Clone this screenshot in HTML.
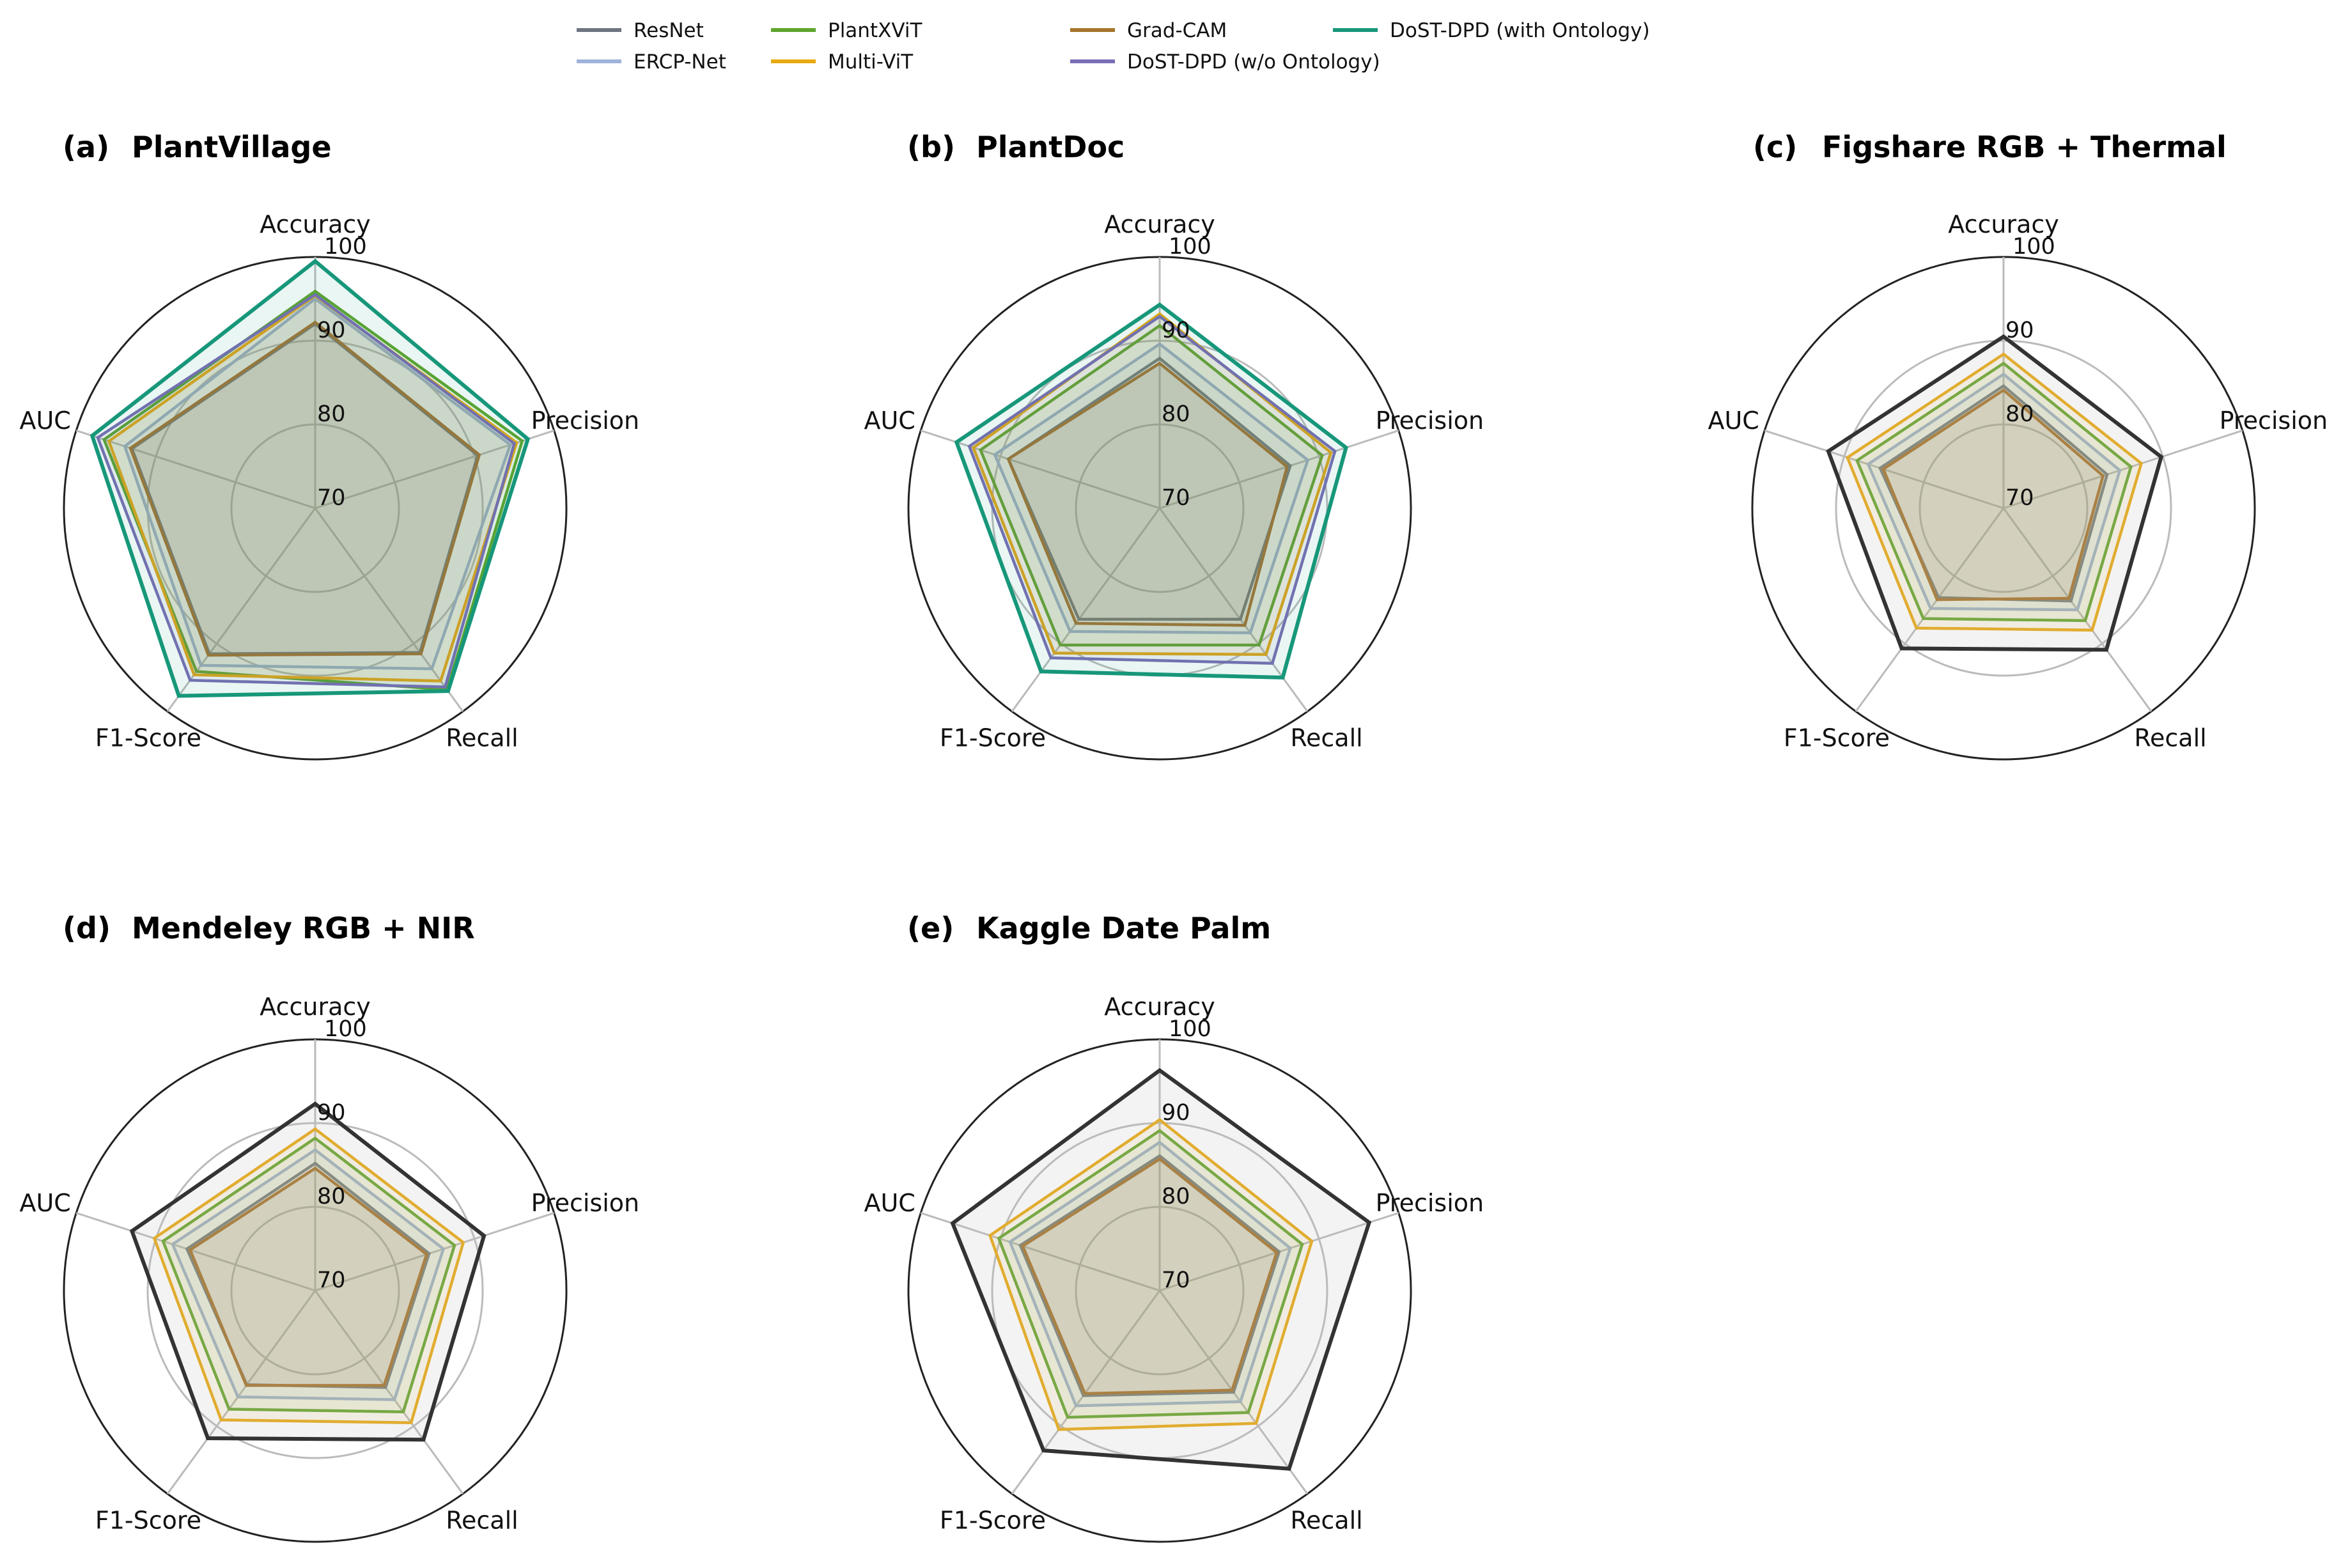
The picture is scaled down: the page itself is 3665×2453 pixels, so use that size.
<!DOCTYPE html>
<html><head><meta charset="utf-8"><style>
html,body{margin:0;padding:0;background:#fff;}
svg{display:block;font-family:"DejaVu Sans","Liberation Sans",sans-serif;}
</style></head><body>
<svg id="chart" width="3665" height="2453" viewBox="0 0 3665 2453" xmlns="http://www.w3.org/2000/svg">
<rect width="3665" height="2453" fill="#fff"/>
<g id="legend"></g>
<g id="panels"></g>
</svg>
<script>
const metrics = ["Accuracy","Precision","Recall","F1-Score","AUC"];
const seriesNames = ["ResNet","ERCP-Net","PlantXViT","Multi-ViT","Grad-CAM","DoST-DPD (w/o Ontology)","DoST-DPD (with Ontology)"];
const panelLetters = ["(a)","(b)","(c)","(d)","(e)"];
const panelTitles = ["PlantVillage","PlantDoc","Figshare RGB + Thermal","Mendeley RGB + NIR","Kaggle Date Palm"];
const tickValues = [70,80,90,100];
const tickLabels = ["70","80","90","100"];
// values per panel: [ResNet, ERCP, PlantXViT, Multi-ViT, Grad-CAM, DoST w/o, DoST with]
const valsA = [[92.0,90.4,91.3,91.5,93.0],[95.0,94.5,93.7,93.2,93.9],[95.9,96.0,96.8,94.1,96.5],[95.4,95.3,95.5,94.6,95.9],[92.2,90.6,91.5,91.7,93.2],[95.5,95.0,96.4,95.4,97.3],[99.5,96.7,97.0,97.7,98.0]];
const valsB = [[87.9,86.4,86.4,86.4,89.0],[89.6,88.6,88.4,88.2,90.7],[91.8,90.4,90.2,90.2,92.5],[93.2,91.5,91.6,91.4,93.4],[87.3,86.0,87.3,87.0,89.0],[92.9,92.0,92.9,92.1,93.9],[94.3,93.4,95.0,94.1,95.5]];
const valsC = [[84.6,83.0,83.7,83.2,85.5],[86.0,84.6,85.0,84.8,87.0],[87.3,86.0,86.6,86.3,88.4],[88.4,87.3,88.0,87.7,89.6],[84.1,82.5,83.3,83.5,85.1],null,[90.5,89.8,90.9,90.7,92.0]];
const valsD = [[85.2,84.3,84.3,83.9,86.1],[86.8,86.1,86.1,85.7,87.9],[88.2,87.5,87.9,87.5,89.1],[89.3,88.6,89.5,89.1,90.2],[84.6,84.0,84.0,84.0,85.7],null,[92.3,91.2,92.0,91.8,93.0]];
const valsE = [[86.1,85.0,85.0,85.5,87.5],[87.7,86.4,86.4,87.0,88.8],[89.1,87.9,88.0,88.7,90.2],[90.4,89.1,89.6,90.5,91.3],[85.7,84.7,84.7,85.2,87.2],null,[96.3,96.3,96.3,93.6,96.0]];
const panelData = [valsA,valsB,valsC,valsD,valsE];

const colors = ["#6e7480","#9fb2da","#5ea42e","#e9a910","#a6752a","#7a6db6","#17977a"];
const NS="http://www.w3.org/2000/svg";
function mk(tag,attrs,parent){const e=document.createElementNS(NS,tag);for(const k in attrs)e.setAttribute(k,attrs[k]);if(parent)parent.appendChild(e);return e;}

const R=393, vmin=70, vmax=100;
const centers=[[493,795],[1814,795],[3134,795],[493,2019],[1814,2019]];
const titlePos=[[98,229],[1419,229],[2742,229],[98,1451],[1419,1451]];
function rad(v){return (v-vmin)/(vmax-vmin)*R;}
function ang(i){return -Math.PI/2 + i*2*Math.PI/metrics.length;}
function pt(cx,cy,i,v){const a=ang(i),r=rad(v);return [cx+r*Math.cos(a),cy+r*Math.sin(a)];}

const leg=document.getElementById('legend');
const legPos=[[902,47],[902,96],[1206,47],[1206,96],[1674,47],[1674,96],[2085,47]];
seriesNames.forEach((n,i)=>{
  const [x,y]=legPos[i];
  const g=mk('g',{},leg);
  
  
  mk('line',{x1:x,y1:y,x2:x+70,y2:y,stroke:colors[i],'stroke-width':6},g);
  const t=mk('text',{x:x+89,y:y+11,'font-size':31,fill:'#111'},g);
  t.textContent=n;
});

const panels=document.getElementById('panels');
panelData.forEach((vals,p)=>{
  const [cx,cy]=centers[p];
  const g=mk('g',{},panels);
  
  
  const dark = p>=2;
  const tg=mk('g',{},g);
  
  
  const t1=mk('text',{x:titlePos[p][0],y:titlePos[p][1]+17,'font-size':46,'font-weight':'bold',fill:'#000'},tg);
  t1.textContent=panelLetters[p];
  const t2=mk('text',{x:titlePos[p][0]+108,y:titlePos[p][1]+17,'font-size':46,'font-weight':'bold',fill:'#000'},tg);
  t2.textContent=panelTitles[p];
  tickValues.forEach((tv)=>{
    if(tv===vmin) return;
    const c=mk('circle',{cx:cx,cy:cy,r:rad(tv),fill:'none',stroke:tv===vmax?'#222':'#bbbbbb','stroke-width':3},g);
    
    
  });
  metrics.forEach((m,i)=>{
    const [x,y]=pt(cx,cy,i,vmax);
    const l=mk('line',{x1:cx,y1:cy,x2:x,y2:y,stroke:'#bbbbbb','stroke-width':3},g);
    
    
  });
  vals.forEach((s,si)=>{
    if(!s) return;
    let col=colors[si], fill=colors[si], fo=0.09, lw=4.5;
    if(si===6){ if(dark){col='#333333';fill='#bbbbbb';fo=0.18;} lw=6; }
    const d=s.map((v,i)=>pt(cx,cy,i,v).map(n=>n.toFixed(1)).join(',')).join(' ');
    const pg=mk('polygon',{points:d,fill:fill,'fill-opacity':fo,stroke:col,'stroke-width':lw,'stroke-linejoin':'miter'},g);
    
    
  });
  tickValues.forEach((tv,k)=>{
    const t=mk('text',{x:cx+(tv===vmax?14:3),y:cy-rad(tv)-5,'font-size':35,fill:'#111'},g);
    
    
    t.textContent=tickLabels[k];
  });
  metrics.forEach((m,i)=>{
    const a=ang(i), r=R*1.13;
    const t=mk('text',{x:cx+r*Math.cos(a),y:cy+r*Math.sin(a)+13,'font-size':38,fill:'#111','text-anchor':'middle'},g);
    
    
    t.textContent=m;
  });
});
</script>
</body></html>
